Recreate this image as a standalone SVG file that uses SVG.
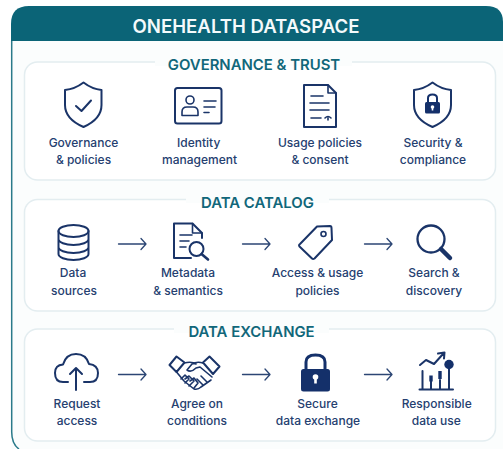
<svg xmlns="http://www.w3.org/2000/svg" width="503" height="449" viewBox="0 0 503 449">
<style>
text{font-family:Inter,"Noto Sans","Liberation Sans",sans-serif;text-anchor:middle}
.t{font-size:12px;font-weight:500;fill:#254070}
.h{font-size:14.9px;font-weight:600;fill:#11677a}
.p{fill:#fff;stroke:#e3edf0;stroke-width:1.5}
.i{fill:none;stroke:#1a3468;stroke-width:2;stroke-linecap:round;stroke-linejoin:round}
.n{fill:none;stroke:#1a3468;stroke-width:1.6;stroke-linecap:round;stroke-linejoin:round}
.f{fill:#14306a}
.w{fill:#fff}
.a{fill:none;stroke:#2c4674;stroke-width:1.3;stroke-linecap:round;stroke-linejoin:round}
</style>
<rect width="503" height="449" fill="#fff"/>
<g id="frame">
<path d="M11.500 449V41H503V449Z" fill="#fbfdfd"/>
<path d="M11.700 41V432Q11.700 444 19 449" fill="none" stroke="#2a7a8a" stroke-width="1.500"/>
<path d="M11 41V24Q11 6 29 6H486Q503 6 503 22V41Z" fill="#0b6477"/>
<text x="246" y="32.500" font-size="18.600" font-weight="600" fill="#f4fafb">ONEHEALTH DATASPACE</text>
</g>
<g id="panels">
<rect class="p" x="24.500" y="62" width="471" height="118" rx="13"/>
<rect class="p" x="24.500" y="199.500" width="471" height="111.500" rx="13"/>
<rect class="p" x="24.500" y="329" width="471" height="112" rx="13"/>
<rect x="155" y="58" width="197" height="8" fill="#fbfdfd"/>
<rect x="186" y="195" width="143" height="8" fill="#fbfdfd"/>
<rect x="174" y="325" width="155" height="8" fill="#fbfdfd"/>
<text class="h" x="254" y="69.500">GOVERNANCE &amp; TRUST</text>
<text class="h" x="257.500" y="207.500">DATA CATALOG</text>
<text class="h" x="251.500" y="337">DATA EXCHANGE</text>
</g>
<g id="connectors">
<path class="a" d="M118.500 244H146M141 238.500L146 244L141 249.500"/>
<path class="a" d="M242.500 244H270M265 238.500L270 244L265 249.500"/>
<path class="a" d="M364.500 244H392M387 238.500L392 244L387 249.500"/>
<path class="a" d="M118.500 374.500H146M141 369L146 374.500L141 380"/>
<path class="a" d="M242.500 374.500H270M265 369L270 374.500L265 380"/>
<path class="a" d="M364.500 374.500H392M387 369L392 374.500L387 380"/>
</g>
<g id="governance-policies">
<path class="i" d="M83.500 82.500Q92 89 101.500 90V105Q101.500 119 83.500 127Q65 119 65 105V90Q75 89 83.500 82.500Z"/>
<path class="i" d="M76 106L81.500 111L91 100.500"/>
<text class="t" x="83.500" y="147">Governance</text><text class="t" x="83.500" y="164">&amp; policies</text>
</g>
<g id="identity-management">
<rect class="i" x="175" y="88" width="46.500" height="35.500" rx="2.500"/>
<circle class="n" cx="190" cy="100" r="4"/>
<path class="n" d="M182 115.500V112Q182 107 187 107H193Q198 107 198 112V115.500Z"/>
<path class="n" d="M204 101H216M204 107H215M204 112.500H209"/>
<text class="t" x="198.700" y="147">Identity</text><text class="t" x="199.500" y="164">management</text>
</g>
<g id="usage-policies">
<path class="i" d="M304 85H328L336 93V127H304Z"/>
<path class="n" d="M328 85V93H336M311 96H323M310 103H329M310 110H329M311 118H321"/>
<path class="n" d="M325 118Q328 115 331 118M328 118V120"/>
<text class="t" x="320" y="147">Usage policies</text><text class="t" x="320" y="164">&amp; consent</text>
</g>
<g id="security-compliance">
<path class="i" d="M432.500 82.500Q441 89 451 90V105Q451 119 432.500 127Q414 119 414 105V90Q424 89 432.500 82.500Z"/>
<path d="M428 102V98Q428 94.500 432.500 94.500Q437 94.500 437 98V102" fill="none" stroke="#14306a" stroke-width="2"/>
<rect class="f" x="425" y="102" width="15" height="11.500" rx="1.500"/>
<circle class="w" cx="432.500" cy="107" r="1.800"/><rect class="w" x="431.700" y="107" width="1.600" height="3.500"/>
<text class="t" x="433" y="147">Security &amp;</text><text class="t" x="433" y="164">compliance</text>
</g>
<g id="data-sources">
<ellipse class="i" cx="73.500" cy="231" rx="15" ry="6"/>
<path class="i" d="M58.500 231V254A15 6 0 0 0 88.500 254V231M58.500 239A15 6 0 0 0 88.500 239M58.500 247A15 6 0 0 0 88.500 247"/>
<text class="t" x="73" y="277">Data</text><text class="t" x="74" y="295">sources</text>
</g>
<g id="metadata-semantics">
<path class="i" d="M191 258H174V223.500H192.500L202 233V238"/>
<path class="n" d="M192.500 223.500V233H202M180 235H192M180 241H189M180 247H186"/>
<circle class="i" cx="196.500" cy="249" r="7"/>
<path d="M201.500 254L208 259.500" fill="none" stroke="#1a3468" stroke-width="2.600" stroke-linecap="round"/>
<text class="t" x="188" y="277">Metadata</text><text class="t" x="188" y="295">&amp; semantics</text>
</g>
<g id="access-usage">
<path class="i" d="M317 226.500L330 226Q331.500 226 331.500 228L332 240L314.500 258.500Q313 259.500 312 258.500L299.500 246.500Q298.500 245 300 244Z"/>
<circle class="n" cx="323.500" cy="234" r="2.500"/>
<text class="t" x="317.500" y="277">Access &amp; usage</text><text class="t" x="317.500" y="295">policies</text>
</g>
<g id="search-discovery">
<circle cx="431" cy="239" r="13.500" fill="none" stroke="#1a3468" stroke-width="2.300"/>
<path d="M441 249L450 258" fill="none" stroke="#1a3468" stroke-width="4.500" stroke-linecap="round"/>
<text class="t" x="434" y="277">Search &amp;</text><text class="t" x="434" y="295">discovery</text>
</g>
<g id="request-access">
<path class="i" d="M68 382H63Q55 382 55 373Q55 365 63 364.500Q66 354 76 354Q86 354 89 364Q98 365 98 373Q98 382 90 382H84"/>
<path class="i" d="M76 390V368M70 374L76 368L82 374"/>
<text class="t" x="77" y="408">Request</text><text class="t" x="77" y="425">access</text>
</g>
<g id="agree-conditions">
<path class="i" d="M169.500 365L176.500 356.500L184.500 362.500L176.500 372ZM209.500 356.500L219.500 366.500L213 374L203 362.500Z"/>
<path class="n" d="M184 363Q192 361 196 364M203 363Q197 361 192 364L187 370Q191 373 196 368L200 367L212 377M176.500 372L184 381L194 389Q198 390 201 387L211 380"/>
<path class="n" d="M181 379L185 375L189 379L185 383M185 379L189 376L194 381L189 386M190 381L194 378L198 383L194 388M203 385L197 379M207 382L201 376"/>
<text class="t" x="197" y="408">Agree on</text><text class="t" x="197" y="425">conditions</text>
</g>
<g id="secure-exchange">
<path d="M306 370V362Q306 355 315.500 355Q325 355 325 362V370" fill="none" stroke="#14306a" stroke-width="3"/>
<rect class="f" x="301" y="369" width="29" height="22.500" rx="2.500"/>
<circle class="w" cx="315.500" cy="377" r="2.800"/><rect class="w" x="314.200" y="377" width="2.600" height="6.500"/>
<text class="t" x="317.500" y="408">Secure</text><text class="t" x="318" y="425">data exchange</text>
</g>
<g id="responsible-use">
<path class="i" d="M420 365L426 360L434 364L443 354M438 353.500L444.500 352.500L444 358.500"/>
<path class="i" d="M419.500 389.500H453M422.500 389.500V371M431 389.500V381M440 389.500V380M449 389.500V367"/>
<rect class="f" x="429.300" y="375.500" width="3.400" height="6"/>
<rect class="f" x="438.300" y="371" width="3.400" height="8"/>
<circle class="f" cx="449" cy="364.500" r="4.700"/>
<text class="t" x="436.700" y="408">Responsible</text><text class="t" x="436.300" y="425">data use</text>
</g>
</svg>
